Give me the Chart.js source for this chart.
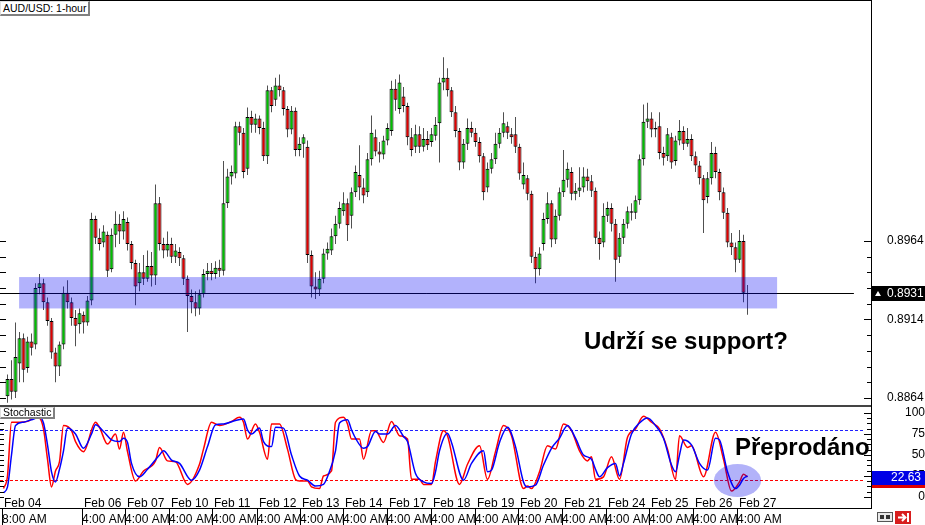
<!DOCTYPE html>
<html>
<head>
<meta charset="utf-8">
<script src="https://cdn.jsdelivr.net/npm/chart.js@4.4.1/dist/chart.umd.min.js"></script>
<style>
  body { margin: 0; background: #fff; }
  #wrap { position: relative; width: 925px; height: 525px; overflow: hidden; font-family: 'Liberation Sans', Arial, sans-serif; }
  .pane { position: absolute; left: 0; width: 925px; }
  .tag { position: absolute; background: #fff; color: #000; font-size: 10.5px; padding: 0 2px;
         border-style: solid; border-width: 1px 2px 2px 1px; border-color: #e0e0e0 #808080 #808080 #e0e0e0; white-space: nowrap; }
  .note { position: absolute; font-weight: bold; font-size: 24px; line-height: 24px; color: #000; white-space: nowrap; }
</style>
</head>
<body>
<div id="wrap">
  <div class="pane" style="top:0;height:405px"><canvas id="priceChart" width="925" height="405"></canvas></div>
  <div class="pane" style="top:405px;height:120px"><canvas id="stochChart" width="925" height="120"></canvas></div>
  <div class="tag" style="left:0;top:1px;line-height:12px">AUD/USD: 1-hour</div>
  <div class="tag" style="left:0;top:407px;line-height:9px">Stochastic</div>
  <div class="note" style="left:584px;top:329px">Udrží se support?</div>
  <div class="note" style="left:735px;top:435px">Přeprodáno</div>
</div>
<script>
// hourly candles, one entry per bar (bar 0 = Feb 04 8:00 AM)
const opens = [
  0.8865,0.8876,0.8868,0.8886,0.8902,0.8883,0.8900,0.8898,0.8934,0.8937,
  0.8925,0.8913,0.8893,0.8884,0.8898,0.8931,0.8925,0.8915,0.8911,0.8917,
  0.8912,0.8926,0.8978,0.8966,0.8963,0.8968,0.8946,0.8968,0.8975,0.8970,
  0.8976,0.8962,0.8950,0.8937,0.8944,0.8940,0.8948,0.8942,0.8988,0.8962,
  0.8958,0.8962,0.8954,0.8957,0.8953,0.8940,0.8929,0.8925,0.8921,0.8930,
  0.8943,0.8945,0.8943,0.8947,0.8945,0.8988,0.9005,0.9007,0.9037,0.9033,
  0.9010,0.9043,0.9038,0.9042,0.9036,0.9018,0.9060,0.9054,0.9063,0.9060,
  0.9048,0.9035,0.9047,0.9022,0.9026,0.9024,0.8955,0.8935,0.8933,0.8940,
  0.8956,0.8958,0.8967,0.8975,0.8983,0.8988,0.8980,0.8995,0.9006,0.8998,
  0.8995,0.9016,0.9030,0.9021,0.9019,0.9028,0.9034,0.9061,0.9048,0.9056,
  0.9050,0.9030,0.9024,0.9032,0.9024,0.9029,0.9027,0.9031,0.9039,0.9065,
  0.9068,0.9060,0.9046,0.9034,0.9014,0.9026,0.9036,0.9033,0.9027,0.9018,
  0.8998,0.9010,0.9016,0.9026,0.9033,0.9037,0.9032,0.9032,0.9024,0.9000,
  0.9004,0.8994,0.8954,0.8946,0.8962,0.8978,0.8988,0.8965,0.8980,0.8995,
  0.9003,0.9008,0.8994,0.8996,0.8998,0.9005,0.9002,0.8996,0.8966,0.8963,
  0.8980,0.8985,0.8975,0.8954,0.8966,0.8975,0.8983,0.8982,0.8990,0.9016,
  0.9040,0.9042,0.9035,0.9037,0.9020,0.9018,0.9030,0.9015,0.9028,0.9034,
  0.9026,0.9029,0.9018,0.9012,0.9004,0.8992,0.9004,0.9020,0.9008,0.8995,
  0.8982,0.8963,0.8960,0.8952,0.8964,0.8931
];
const highs = [
  0.8879,0.8888,0.8912,0.8906,0.8905,0.8903,0.8905,0.8937,0.8943,0.8940,
  0.8928,0.8915,0.8896,0.8900,0.8935,0.8939,0.8928,0.8920,0.8921,0.8919,
  0.8929,0.8982,0.8980,0.8972,0.8974,0.8970,0.8972,0.8983,0.8981,0.8983,
  0.8979,0.8964,0.8952,0.8950,0.8955,0.8958,0.8957,0.9000,0.8992,0.8966,
  0.8970,0.8966,0.8962,0.8960,0.8955,0.8942,0.8933,0.8932,0.8933,0.8946,
  0.8950,0.8950,0.8951,0.8952,0.9015,0.9010,0.9012,0.9040,0.9040,0.9036,
  0.9049,0.9047,0.9045,0.9044,0.9040,0.9063,0.9062,0.9068,0.9070,0.9062,
  0.9050,0.9050,0.9049,0.9030,0.9032,0.9028,0.8958,0.8944,0.8945,0.8959,
  0.8963,0.8972,0.8980,0.8989,0.8995,0.8991,0.8998,0.9012,0.9025,0.9004,
  0.9020,0.9044,0.9035,0.9027,0.9031,0.9039,0.9066,0.9067,0.9070,0.9062,
  0.9052,0.9036,0.9038,0.9037,0.9036,0.9034,0.9036,0.9043,0.9068,0.9081,
  0.9074,0.9062,0.9050,0.9036,0.9029,0.9042,0.9040,0.9036,0.9030,0.9020,
  0.9014,0.9020,0.9033,0.9036,0.9046,0.9040,0.9036,0.9043,0.9026,0.9014,
  0.9006,0.8996,0.8957,0.8960,0.8982,0.8995,0.8990,0.8984,0.8998,0.9022,
  0.9014,0.9011,0.9001,0.9011,0.9011,0.9010,0.9006,0.8998,0.8970,0.8988,
  0.8989,0.8988,0.8978,0.8969,0.8978,0.8986,0.8988,0.8993,0.9019,0.9051,
  0.9052,0.9046,0.9040,0.9046,0.9024,0.9036,0.9033,0.9031,0.9041,0.9037,
  0.9036,0.9032,0.9021,0.9015,0.9006,0.9008,0.9027,0.9024,0.9010,0.8998,
  0.8985,0.8969,0.8963,0.8971,0.8968,0.8936
];
const lows = [
  0.8861,0.8863,0.8864,0.8874,0.8874,0.8880,0.8891,0.8895,0.8930,0.8920,
  0.8910,0.8889,0.8874,0.8878,0.8895,0.8921,0.8910,0.8897,0.8905,0.8905,
  0.8910,0.8923,0.8962,0.8958,0.8960,0.8941,0.8944,0.8960,0.8962,0.8965,
  0.8958,0.8946,0.8923,0.8932,0.8936,0.8938,0.8935,0.8936,0.8958,0.8953,
  0.8954,0.8950,0.8950,0.8948,0.8936,0.8906,0.8918,0.8916,0.8917,0.8928,
  0.8939,0.8939,0.8940,0.8941,0.8942,0.8985,0.9000,0.9004,0.9025,0.9004,
  0.9006,0.9033,0.9033,0.9032,0.9015,0.9013,0.9046,0.9050,0.9056,0.9044,
  0.9030,0.9032,0.9018,0.9018,0.9017,0.8950,0.8928,0.8927,0.8929,0.8937,
  0.8952,0.8955,0.8962,0.8972,0.8980,0.8964,0.8972,0.8992,0.8990,0.8988,
  0.8992,0.9012,0.9018,0.9014,0.9016,0.9025,0.9031,0.9047,0.9045,0.9046,
  0.9025,0.9018,0.9020,0.9020,0.9021,0.9022,0.9024,0.9028,0.9014,0.9060,
  0.9056,0.9043,0.9030,0.9009,0.9010,0.9022,0.9030,0.9024,0.9014,0.8990,
  0.8995,0.9007,0.9013,0.9023,0.9030,0.9029,0.9026,0.9020,0.9003,0.8997,
  0.8990,0.8950,0.8937,0.8942,0.8958,0.8975,0.8960,0.8962,0.8977,0.8992,
  0.8998,0.8990,0.8990,0.8992,0.8995,0.8996,0.8992,0.8962,0.8952,0.8960,
  0.8976,0.8970,0.8938,0.8950,0.8962,0.8972,0.8977,0.8978,0.8987,0.9012,
  0.9036,0.9030,0.9030,0.9016,0.9012,0.9015,0.9010,0.9012,0.9025,0.9022,
  0.9024,0.9015,0.9008,0.9000,0.8969,0.8988,0.9000,0.9004,0.8990,0.8978,
  0.8960,0.8955,0.8944,0.8950,0.8925,0.8917
];
const closes = [
  0.8876,0.8868,0.8890,0.8902,0.8882,0.8900,0.8896,0.8934,0.8937,0.8925,
  0.8913,0.8893,0.8884,0.8898,0.8931,0.8925,0.8915,0.8910,0.8918,0.8912,
  0.8926,0.8978,0.8966,0.8962,0.8970,0.8945,0.8968,0.8975,0.8970,0.8978,
  0.8962,0.8950,0.8935,0.8944,0.8940,0.8948,0.8942,0.8988,0.8962,0.8958,
  0.8962,0.8954,0.8958,0.8953,0.8940,0.8929,0.8925,0.8921,0.8930,0.8943,
  0.8945,0.8943,0.8947,0.8945,0.8988,0.9005,0.9008,0.9037,0.9033,0.9008,
  0.9043,0.9038,0.9042,0.9036,0.9018,0.9060,0.9050,0.9063,0.9060,0.9048,
  0.9035,0.9047,0.9022,0.9026,0.9030,0.8955,0.8935,0.8933,0.8940,0.8956,
  0.8959,0.8967,0.8975,0.8985,0.8988,0.8974,0.8995,0.9008,0.8998,0.8993,
  0.9016,0.9033,0.9021,0.9019,0.9028,0.9036,0.9061,0.9054,0.9065,0.9050,
  0.9030,0.9022,0.9032,0.9024,0.9029,0.9025,0.9032,0.9038,0.9065,0.9068,
  0.9060,0.9046,0.9034,0.9014,0.9026,0.9036,0.9033,0.9027,0.9018,0.8995,
  0.9010,0.9016,0.9026,0.9033,0.9039,0.9033,0.9030,0.9024,0.9007,0.9006,
  0.8994,0.8954,0.8946,0.8956,0.8978,0.8988,0.8965,0.8980,0.8995,0.9003,
  0.9010,0.8994,0.8996,0.8998,0.9005,0.9002,0.8996,0.8966,0.8962,0.8980,
  0.8985,0.8975,0.8952,0.8966,0.8975,0.8983,0.8982,0.8990,0.9016,0.9040,
  0.9042,0.9035,0.9036,0.9020,0.9017,0.9032,0.9014,0.9028,0.9034,0.9026,
  0.9029,0.9018,0.9012,0.9004,0.8990,0.9004,0.9020,0.9008,0.8995,0.8982,
  0.8963,0.8960,0.8952,0.8964,0.8931,0.8931
];

// stochastic %K (red) and %D (blue), sampled at bar numbers
const kBars = [-1,0,1,3,5,7,8,9,10,11,12,13,14,16,17,19,22,23,25,27,28,29,30,32,34,37,38,40,42,45,48,49,51,53,56,58,59,60,62,63,65,66,68,70,72,73,75,76,78,79,81,82,84,85,86,88,89,91,92,94,96,98,100,101,103,104,106,107,109,110,113,115,118,120,122,124,126,129,130,131,133,135,137,139,141,143,145,146,147,149,151,153,155,157,159,161,163,165,167,168,170,171,174,177,179,181,183,184,185];
const kValues = [10,25,89,89,90,95,94,81,45,12,31,42,85,79,66,54,89,83,63,75,57,77,54,19,31,43,59,43,42,15,39,57,89,85,90,95,89,69,87,77,45,87,87,57,21,19,19,12,10,25,31,89,95,87,69,69,45,79,79,65,90,73,69,21,21,15,15,42,79,73,15,39,61,21,54,85,73,10,13,10,30,61,57,87,79,55,43,48,21,24,48,21,71,81,96,89,81,57,21,73,59,61,24,77,45,7,18,27,24];
const dBars = [-1,0,1,2,4,6,8,9,10,11,12,13,14,15,17,19,21,22,24,26,28,29,30,31,33,35,38,39,41,43,46,48,50,52,54,57,59,60,61,63,64,66,67,69,71,73,75,77,79,80,82,83,85,86,87,89,90,92,93,95,97,99,100,102,104,106,107,108,110,111,114,116,119,120,121,123,125,127,129,130,132,134,136,138,140,142,144,146,147,148,150,152,153,154,156,158,160,162,164,166,167,168,169,171,173,175,177,178,180,182,183,184,185];
const dValues = [5,12,50,85,89,92,95,88,62,30,18,33,55,82,75,58,75,86,78,68,66,70,65,40,24,33,50,55,44,40,20,32,60,86,87,91,93,80,75,82,66,60,83,82,50,25,20,13,15,24,55,88,92,80,70,58,60,78,75,75,85,72,66,28,18,16,30,55,76,65,20,40,55,30,32,65,83,60,18,12,14,38,58,70,85,70,50,45,33,24,35,40,25,40,75,88,94,85,70,38,30,50,68,62,40,32,70,68,30,10,14,22,25];

// time axis (bar numbers where the day marks sit)
const timeTicks = [-1.375,18.625,29.375,40.375,51.125,62.375,73.125,83.875,94.875,105.875,116.875,127.625,138.625,149.625,160.375,171.375,182.375];
const dayLabels = ['Feb 04','Feb 06','Feb 07','Feb 10','Feb 11','Feb 12','Feb 13','Feb 14','Feb 17','Feb 18','Feb 19','Feb 20','Feb 21','Feb 24','Feb 25','Feb 26','Feb 27'];
const timeLabels = ['8:00 AM','4:00 AM','4:00 AM','4:00 AM','4:00 AM','4:00 AM','4:00 AM','4:00 AM','4:00 AM','4:00 AM','4:00 AM','4:00 AM','4:00 AM','4:00 AM','4:00 AM','4:00 AM','4:00 AM'];

// price axis
const priceTicks = [0.8864,0.8874,0.8884,0.8894,0.8904,0.8914,0.8924,0.8934,0.8944,0.8954,0.8964];
const priceLabels = [0.8864,0.8914,0.8964];
const stochTicks = [0,6.25,12.5,18.75,25,31.25,37.5,43.75,50,56.25,62.5,68.75,75,81.25,87.5,93.75,100];
const stochLevels = [20, 80];

// annotations
const lastPrice = 0.8931;
const priceLineEnd = 211.6;
const zoneBars = [2.9, 192.4];
const zonePrices = [0.8921, 0.8941];
const lastStoch = 22.63;
const ellipseBars = [176.6, 188.4];
const ellipseValues = [0, 39.2];

const xMin = -1.875, xMax = 215.875;
const upColor = '#00c000', downColor = '#e00000';
const font = "'Liberation Sans', Arial, sans-serif";
Chart.defaults.font.family = font;
Chart.defaults.color = '#000';

const priceDecor = {
    id: 'priceDecor',
    afterDatasetsDraw(chart) {
        const { ctx, chartArea: a, scales: { x, y } } = chart;
        ctx.save();
        const ly = Math.round(y.getPixelForValue(lastPrice)) + 0.5;
        ctx.strokeStyle = '#000';
        ctx.lineWidth = 1;
        ctx.beginPath();
        ctx.moveTo(a.left, ly);
        ctx.lineTo(x.getPixelForValue(priceLineEnd), ly);
        ctx.stroke();

        // support zone
        const zx0 = x.getPixelForValue(zoneBars[0]);
        const zx1 = x.getPixelForValue(zoneBars[1]);
        const zy0 = y.getPixelForValue(zonePrices[1]);
        const zy1 = y.getPixelForValue(zonePrices[0]);
        ctx.fillStyle = 'rgba(0,0,245,0.3)';
        ctx.fillRect(zx0, zy0, zx1 - zx0, zy1 - zy0);

        // frame and ticks
        ctx.fillStyle = '#000';
        ctx.fillRect(a.left, a.top, a.right - a.left + 1, 1);
        ctx.fillRect(a.right, a.top, 1, a.bottom - a.top);
        y.ticks.forEach(t => {
            const py = Math.round(y.getPixelForValue(t.value));
            const len = t.label ? 7 : 4;
            ctx.fillRect(a.right - len, py, len, 1);
            ctx.fillRect(a.left, py, 6, 1);
        });

        // last price tag
        ctx.fillRect(a.right + 1, ly - 7.5, 53, 15);
        ctx.fillStyle = '#fff';
        ctx.beginPath();
        ctx.moveTo(a.right + 4, ly + 2.5);
        ctx.lineTo(a.right + 10, ly + 2.5);
        ctx.lineTo(a.right + 7, ly - 2.5);
        ctx.closePath();
        ctx.fill();
        ctx.font = '12px ' + font;
        ctx.textBaseline = 'middle';
        ctx.textAlign = 'left';
        ctx.fillText(lastPrice.toFixed(4), a.right + 16, ly);
        ctx.restore();
    }
};

const stochDecor = {
    id: 'stochDecor',
    beforeDatasetsDraw(chart) {
        const { ctx, chartArea: a, scales: { y } } = chart;
        ctx.save();
        ctx.lineWidth = 1;
        ctx.setLineDash([3, 2]);
        stochLevels.forEach(lv => {
            const py = Math.round(y.getPixelForValue(lv)) + 0.5;
            ctx.strokeStyle = lv < 50 ? '#ff0000' : '#2020ff';
            ctx.beginPath();
            ctx.moveTo(a.left, py);
            ctx.lineTo(a.right - 8, py);
            ctx.stroke();
        });
        ctx.restore();
    },
    afterDatasetsDraw(chart) {
        const { ctx, chartArea: a, scales: { x, y } } = chart;
        ctx.save();
        // oversold ellipse
        const ex0 = x.getPixelForValue(ellipseBars[0]);
        const ex1 = x.getPixelForValue(ellipseBars[1]);
        const ey0 = y.getPixelForValue(ellipseValues[1]);
        const ey1 = y.getPixelForValue(ellipseValues[0]);
        ctx.fillStyle = 'rgba(0,0,235,0.3)';
        ctx.beginPath();
        ctx.ellipse((ex0 + ex1) / 2, (ey0 + ey1) / 2, (ex1 - ex0) / 2, (ey1 - ey0) / 2, 0, 0, Math.PI * 2);
        ctx.fill();

        // frame
        ctx.fillStyle = '#444';
        ctx.fillRect(0, 0, a.right + 1, 2);
        ctx.fillStyle = '#000';
        ctx.fillRect(a.right, 0, 1, a.bottom + 1);
        ctx.fillRect(0, a.bottom, a.right + 1, 1);
        y.ticks.forEach(t => {
            const py = Math.round(y.getPixelForValue(t.value));
            const len = t.label ? 7 : 4;
            ctx.fillRect(a.right - len, py, len, 1);
            ctx.fillRect(a.left, py, 4, 1);
        });

        // value tag
        const sy = Math.round(y.getPixelForValue(lastStoch));
        ctx.fillStyle = '#e00000';
        ctx.fillRect(a.right + 1, sy + 6, 53, 4);
        ctx.fillStyle = '#0000e6';
        ctx.fillRect(a.right + 1, sy - 7, 53, 14);
        ctx.fillStyle = '#fff';
        ctx.font = '12px ' + font;
        ctx.textBaseline = 'middle';
        ctx.textAlign = 'right';
        ctx.fillText(lastStoch.toFixed(2), 921, sy);

        // day names and time separators
        ctx.fillStyle = '#000';
        ctx.textAlign = 'left';
        ctx.textBaseline = 'alphabetic';
        timeTicks.forEach((v, i) => {
            const px = Math.round(x.getPixelForValue(v));
            ctx.fillText(dayLabels[i], px + 2, a.bottom - 1);
            ctx.fillRect(px, a.bottom + 1, 1, 17);
        });

        // corner buttons
        ctx.fillStyle = '#e8e8e8';
        ctx.fillRect(877, 107, 16, 10);
        ctx.strokeStyle = '#555';
        ctx.lineWidth = 1;
        ctx.strokeRect(877.5, 107.5, 15, 9);
        ctx.fillStyle = '#333';
        ctx.fillRect(880, 110, 4, 4);
        ctx.fillRect(886, 110, 4, 4);
        ctx.fillStyle = '#d81e1e';
        ctx.fillRect(895, 106, 16, 13);
        ctx.strokeStyle = '#fff';
        ctx.lineWidth = 2;
        ctx.beginPath();
        ctx.moveTo(898, 112.5); ctx.lineTo(905, 112.5);
        ctx.moveTo(902, 109); ctx.lineTo(905.5, 112.5); ctx.lineTo(902, 116);
        ctx.moveTo(908, 108); ctx.lineTo(908, 117);
        ctx.stroke();
        ctx.restore();
    }
};

// main price chart
new Chart(document.getElementById('priceChart'), {
    type: 'bar',
    data: {
        datasets: [
            {
                data: highs.map((h, i) => ({ x: i, y: [lows[i], h] })),
                backgroundColor: '#505050',
                barThickness: 1,
                grouped: false,
                inflateAmount: 0,
                order: 2
            },
            {
                data: opens.map((o, i) => ({ x: i, y: [o, closes[i]] })),
                backgroundColor: ctx => closes[ctx.dataIndex] >= opens[ctx.dataIndex] ? upColor : downColor,
                borderColor: '#000',
                borderWidth: 1,
                borderSkipped: false,
                barThickness: 4,
                grouped: false,
                inflateAmount: 0,
                order: 1
            }
        ]
    },
    options: {
        responsive: false,
        animation: false,
        events: [],
        layout: { padding: 0 },
        plugins: { legend: { display: false }, tooltip: { enabled: false } },
        scales: {
            x: { type: 'linear', min: xMin, max: xMax, offset: false, display: false },
            y: {
                position: 'right',
                min: 0.88595,
                max: 0.91175,
                grid: { display: false, drawTicks: false },
                border: { display: false },
                afterBuildTicks: s => { s.ticks = priceTicks.map(v => ({ value: v })); },
                ticks: {
                    autoSkip: false,
                    padding: 16,
                    color: '#000',
                    font: { size: 12 },
                    callback: v => priceLabels.some(p => Math.abs(p - v) < 1e-7) ? v.toFixed(4) : ''
                },
                afterFit: s => { s.width = 54; s.paddingTop = 0; s.paddingBottom = 0; }
            }
        }
    },
    plugins: [priceDecor]
});

// stochastic pane
new Chart(document.getElementById('stochChart'), {
    type: 'line',
    data: {
        datasets: [
            {
                data: kBars.map((b, i) => ({ x: b, y: kValues[i] })),
                borderColor: '#ff0000',
                borderWidth: 1.5,
                pointRadius: 0,
                cubicInterpolationMode: 'monotone',
                order: 2
            },
            {
                data: dBars.map((b, i) => ({ x: b, y: dValues[i] })),
                borderColor: '#0000ff',
                borderWidth: 1.5,
                pointRadius: 0,
                cubicInterpolationMode: 'monotone',
                order: 1
            }
        ]
    },
    options: {
        responsive: false,
        animation: false,
        events: [],
        layout: { padding: { top: 2 } },
        plugins: { legend: { display: false }, tooltip: { enabled: false } },
        scales: {
            x: {
                type: 'linear',
                min: xMin,
                max: xMax,
                grid: { display: false, drawTicks: false },
                border: { display: false },
                afterBuildTicks: s => { s.ticks = timeTicks.map(v => ({ value: v })); },
                ticks: {
                    autoSkip: false,
                    maxRotation: 0,
                    minRotation: 0,
                    align: 'start',
                    padding: 4,
                    color: '#000',
                    font: { size: 12 },
                    callback: (v, i) => timeLabels[i]
                },
                afterFit: s => { s.height = 17; s.paddingLeft = 0; s.paddingRight = 0; }
            },
            y: {
                position: 'right',
                min: -13.1,
                max: 107.14,
                grid: { display: false, drawTicks: false },
                border: { display: false },
                afterBuildTicks: s => { s.ticks = stochTicks.map(v => ({ value: v })); },
                ticks: {
                    autoSkip: false,
                    crossAlign: 'far',
                    padding: 16,
                    color: '#000',
                    font: { size: 12 },
                    callback: v => v % 25 === 0 ? String(v) : ''
                },
                afterFit: s => { s.width = 54; s.paddingTop = 0; s.paddingBottom = 0; }
            }
        }
    },
    plugins: [stochDecor]
});
</script>
</body>
</html>
